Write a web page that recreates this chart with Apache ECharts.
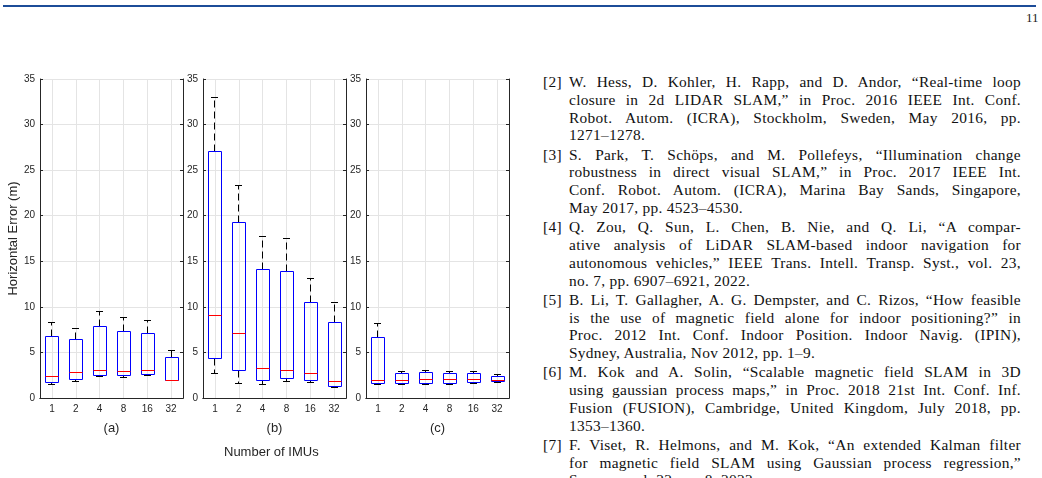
<!DOCTYPE html>
<html>
<head>
<meta charset="utf-8">
<script src="https://cdn.jsdelivr.net/npm/echarts@6/dist/echarts.min.js"></script>
<style>
  html, body { margin: 0; padding: 0; background: #fff; }
  body { width: 1042px; height: 478px; position: relative; overflow: hidden; }
  #rule { position: absolute; left: 3px; top: 5px; width: 1033px; height: 2px; background: #1c4c98; }
  #page { position: absolute; left: 1026px; top: 10px; font: 13px 'Liberation Serif', serif; color: #222; }
  #chart { position: absolute; left: 0; top: 0; width: 520px; height: 478px; }
  #refs { position: absolute; left: 569px; top: 73px; width: 452px; font: 15.4px 'Liberation Serif', serif; letter-spacing: 0.3px; color: #111; }
  .ref { position: relative; margin-bottom: 1.4px; }
  .num { position: absolute; left: -26px; top: 0; line-height: 17.8px; }
  .ln { line-height: 17.8px; height: 17.8px; text-align: justify; text-align-last: justify; }
  .ln.last { text-align-last: left; }
</style>
</head>
<body>
<div id="rule"></div>
<div id="page">11</div>
<div id="chart"></div>
<div id="refs">
  <div class="ref"><span class="num">[2]</span>
    <div class="ln">W. Hess, D. Kohler, H. Rapp, and D. Andor, “Real-time loop</div>
    <div class="ln">closure in 2d LIDAR SLAM,” in Proc. 2016 IEEE Int. Conf.</div>
    <div class="ln">Robot. Autom. (ICRA), Stockholm, Sweden, May 2016, pp.</div>
    <div class="ln last">1271–1278.</div>
  </div>
  <div class="ref"><span class="num">[3]</span>
    <div class="ln">S. Park, T. Schöps, and M. Pollefeys, “Illumination change</div>
    <div class="ln">robustness in direct visual SLAM,” in Proc. 2017 IEEE Int.</div>
    <div class="ln">Conf. Robot. Autom. (ICRA), Marina Bay Sands, Singapore,</div>
    <div class="ln last">May 2017, pp. 4523–4530.</div>
  </div>
  <div class="ref"><span class="num">[4]</span>
    <div class="ln">Q. Zou, Q. Sun, L. Chen, B. Nie, and Q. Li, “A compar-</div>
    <div class="ln">ative analysis of LiDAR SLAM-based indoor navigation for</div>
    <div class="ln">autonomous vehicles,” IEEE Trans. Intell. Transp. Syst., vol. 23,</div>
    <div class="ln last">no. 7, pp. 6907–6921, 2022.</div>
  </div>
  <div class="ref"><span class="num">[5]</span>
    <div class="ln">B. Li, T. Gallagher, A. G. Dempster, and C. Rizos, “How feasible</div>
    <div class="ln">is the use of magnetic field alone for indoor positioning?” in</div>
    <div class="ln">Proc. 2012 Int. Conf. Indoor Position. Indoor Navig. (IPIN),</div>
    <div class="ln last">Sydney, Australia, Nov 2012, pp. 1–9.</div>
  </div>
  <div class="ref"><span class="num">[6]</span>
    <div class="ln">M. Kok and A. Solin, “Scalable magnetic field SLAM in 3D</div>
    <div class="ln">using gaussian process maps,” in Proc. 2018 21st Int. Conf. Inf.</div>
    <div class="ln">Fusion (FUSION), Cambridge, United Kingdom, July 2018, pp.</div>
    <div class="ln last">1353–1360.</div>
  </div>
  <div class="ref"><span class="num">[7]</span>
    <div class="ln">F. Viset, R. Helmons, and M. Kok, “An extended Kalman filter</div>
    <div class="ln">for magnetic field SLAM using Gaussian process regression,”</div>
    <div class="ln last">Sensors, vol. 22, no. 8, 2022.</div>
  </div>
</div>
<script>
// categories (number of IMUs)
var imuCounts = ['1', '2', '4', '8', '16', '32'];
var yTicks = [0, 5, 10, 15, 20, 25, 30, 35];
var panelNames = ['(a)', '(b)', '(c)'];

// each row: [lower whisker, Q1, median, Q3, upper whisker]
var panelA = [
  [1.5, 1.75, 2.37, 6.8, 8.3],
  [1.8, 2.05, 2.85, 6.4, 7.6],
  [2.34, 2.52, 3.07, 7.85, 9.45],
  [2.3, 2.48, 2.92, 7.35, 8.85],
  [2.45, 2.6, 3.07, 7.12, 8.55],
  [1.97, 1.97, 1.97, 4.42, 5.22]
];
var panelB = [
  [2.74, 4.35, 9.06, 27.0, 33.0],
  [1.64, 3.0, 7.05, 19.25, 23.35],
  [1.53, 1.97, 3.29, 14.1, 17.7],
  [1.86, 2.12, 3.0, 13.85, 17.45],
  [1.75, 1.97, 2.74, 10.5, 13.1],
  [1.1, 1.24, 1.79, 8.3, 10.45]
];
var panelC = [
  [1.46, 1.57, 1.9, 6.65, 8.2],
  [1.46, 1.57, 1.97, 2.7, 2.92],
  [1.5, 1.64, 2.05, 2.81, 3.03],
  [1.53, 1.64, 2.0, 2.7, 2.92],
  [1.6, 1.72, 2.08, 2.7, 2.92],
  [1.72, 1.79, 1.9, 2.41, 2.63]
];
var panels = [panelA, panelB, panelC];

var axisColor = '#262626';
var gridColor = '#e4e4e4';
var sans = 'Liberation Sans, Arial, sans-serif';
var gridLefts = [40, 203, 366];

function crisp(v) {
  return Math.round(v - 0.5) + 0.5;
}

// matlab style box: blue box, red median, black dashed whiskers
function renderBox(params, api) {
  var i = api.value(0);
  var lo = api.coord([i, api.value(1)]);
  var q1 = api.coord([i, api.value(2)]);
  var md = api.coord([i, api.value(3)]);
  var q3 = api.coord([i, api.value(4)]);
  var hi = api.coord([i, api.value(5)]);
  var band = api.size([1, 0])[0];
  var bw = Math.round(band * 0.54);
  var cw = 7;
  var cx = crisp(md[0]);
  var x0 = Math.round(cx - bw / 2) + 0.5;
  var x1 = x0 + bw;
  var yLo = crisp(lo[1]), yQ1 = crisp(q1[1]), yMd = crisp(md[1]);
  var yQ3 = crisp(q3[1]), yHi = crisp(hi[1]);
  return {
    type: 'group',
    children: [
      { type: 'line', shape: { x1: cx, y1: yQ3, x2: cx, y2: yHi },
        style: { stroke: '#000', lineWidth: 1, lineDash: [7, 4] } },
      { type: 'line', shape: { x1: cx, y1: yQ1, x2: cx, y2: yLo },
        style: { stroke: '#000', lineWidth: 1, lineDash: [7, 4] } },
      { type: 'line', shape: { x1: cx - cw / 2, y1: yHi, x2: cx + cw / 2, y2: yHi },
        style: { stroke: '#000', lineWidth: 1 } },
      { type: 'line', shape: { x1: cx - cw / 2, y1: yLo, x2: cx + cw / 2, y2: yLo },
        style: { stroke: '#000', lineWidth: 1 } },
      { type: 'rect', shape: { x: x0, y: yQ3, width: x1 - x0, height: yQ1 - yQ3 },
        style: { fill: 'none', stroke: '#0000ff', lineWidth: 1 } },
      { type: 'line', shape: { x1: x0, y1: yMd, x2: x1, y2: yMd },
        style: { stroke: '#ff0000', lineWidth: 1 } }
    ]
  };
}

var grids = [], xAxes = [], yAxes = [], series = [];
panels.forEach(function (rows, g) {
  grids.push({ left: gridLefts[g], top: 79, width: 143, height: 319 });
  // bottom axis with labels
  xAxes.push({
    type: 'category', gridIndex: g, data: imuCounts, position: 'bottom',
    name: panelNames[g], nameLocation: 'middle', nameGap: 24,
    nameTextStyle: { fontFamily: sans, fontSize: 13, color: axisColor },
    axisLine: { lineStyle: { color: axisColor } },
    axisTick: { inside: true, length: 3, alignWithLabel: true, lineStyle: { color: axisColor } },
    axisLabel: { fontFamily: sans, fontSize: 10, color: axisColor, margin: 6 },
    splitLine: { show: true, alignWithLabel: true, lineStyle: { color: gridColor } }
  });
  // mirrored top axis
  xAxes.push({
    type: 'category', gridIndex: g, data: imuCounts, position: 'top',
    axisLine: { lineStyle: { color: axisColor } },
    axisTick: { inside: true, length: 3, alignWithLabel: true, lineStyle: { color: axisColor } },
    axisLabel: { show: false },
    splitLine: { show: false }
  });
  yAxes.push({
    type: 'value', gridIndex: g, position: 'left', min: yTicks[0], max: yTicks[yTicks.length - 1], interval: 5,
    name: g === 0 ? 'Horizontal Error (m)' : '', nameLocation: 'middle', nameGap: 19,
    nameTextStyle: { fontFamily: sans, fontSize: 13, color: axisColor },
    axisLine: { show: true, lineStyle: { color: axisColor } },
    axisTick: { show: true, inside: true, length: 3, lineStyle: { color: axisColor } },
    axisLabel: { fontFamily: sans, fontSize: 10, color: axisColor, margin: 5 },
    splitLine: { show: true, lineStyle: { color: gridColor } }
  });
  yAxes.push({
    type: 'value', gridIndex: g, position: 'right', min: yTicks[0], max: yTicks[yTicks.length - 1], interval: 5,
    axisLine: { show: true, lineStyle: { color: axisColor } },
    axisTick: { show: true, inside: true, length: 3, lineStyle: { color: axisColor } },
    axisLabel: { show: false },
    splitLine: { show: false }
  });
  series.push({
    type: 'custom',
    xAxisIndex: g * 2,
    yAxisIndex: g * 2,
    renderItem: renderBox,
    encode: { x: 0, y: [1, 2, 3, 4, 5] },
    data: rows.map(function (r, i) { return [i].concat(r); }),
    silent: true
  });
});

var chart = echarts.init(document.getElementById('chart'), null, { renderer: 'canvas' });
chart.setOption({
  animation: false,
  grid: grids,
  xAxis: xAxes,
  yAxis: yAxes,
  series: series,
  graphic: [{
    type: 'text', left: 274 - 50, top: 446,
    style: { text: 'Number of IMUs', width: 100, align: 'center', fontFamily: sans, fontSize: 13, fill: axisColor }
  }]
});
</script>
</body>
</html>
